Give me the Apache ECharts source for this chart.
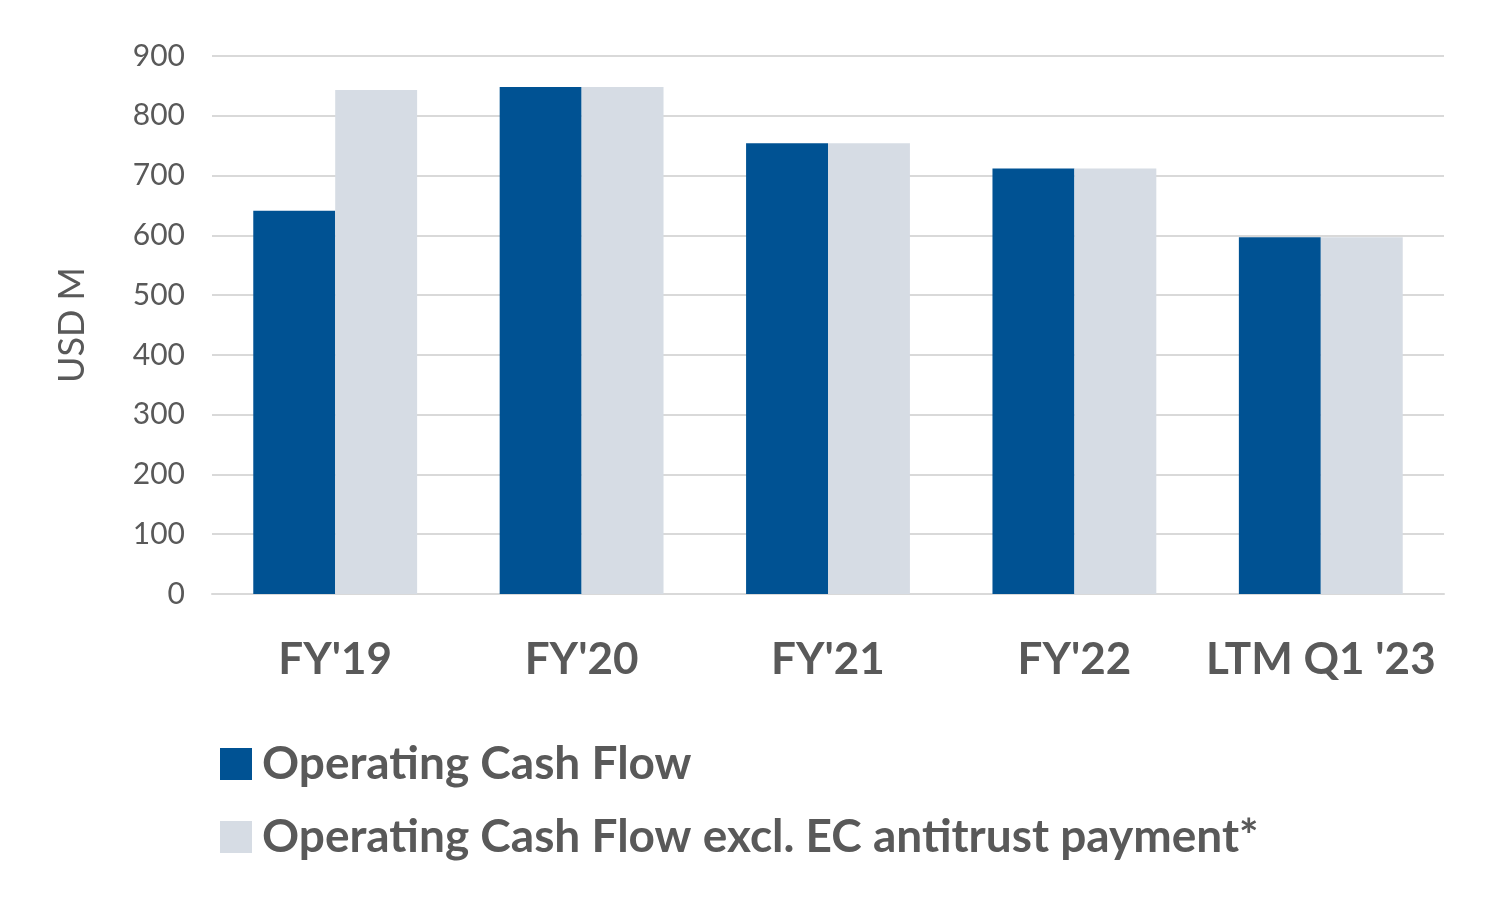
<!DOCTYPE html>
<html><head><meta charset="utf-8">
<script src="https://cdn.jsdelivr.net/npm/echarts@6/dist/echarts.min.js"></script>
<style>html,body{margin:0;padding:0;background:#fff}#c{width:1494px;height:900px}</style>
</head><body><div id="c"></div>
<script>
const categories = ["FY'19", "FY'20", "FY'21", "FY'22", "LTM Q1 '23"];
const ocf = [641, 848, 754, 712, 597];
const ocfExcl = [843, 848, 754, 712, 597];
const seriesNames = ["Operating Cash Flow", "Operating Cash Flow excl. EC antitrust payment*"];
const chart = echarts.init(document.getElementById('c'));
chart.setOption({
  backgroundColor: '#fff',
  animation: false,
  grid: {left: 212, right: 50, top: 56, bottom: 306},
  legend: {
    orient: 'vertical', left: 220, top: 741, padding: 0,
    itemWidth: 32, itemHeight: 32, itemGap: 27,
    icon: 'rect',
    textStyle: {fontFamily: 'Lato', fontWeight: 'bold', fontSize: 46, color: '#595959', padding: [0,0,0,5]},
    data: seriesNames
  },
  xAxis: {
    type: 'category', data: categories,
    axisLine: {lineStyle: {color: '#d9d9d9', width: 2}},
    axisTick: {show: false},
    axisLabel: {interval: 0, fontFamily: 'Lato', fontWeight: 'bold', fontSize: 44, color: '#595959', margin: 44}
  },
  yAxis: {
    type: 'value', min: 0, max: 900, interval: 100,
    name: 'USD M', nameLocation: 'middle', nameGap: 122, nameRotate: 90,
    nameTextStyle: {fontFamily: 'Lato', fontSize: 36, color: '#595959'},
    axisLine: {show: false}, axisTick: {show: false},
    axisLabel: {fontFamily: 'Lato', fontSize: 30, color: '#595959', margin: 27},
    splitLine: {lineStyle: {color: '#d9d9d9', width: 2}}
  },
  series: [
    {name: seriesNames[0], type: 'bar', data: ocf, itemStyle: {color: '#005293'}, barGap: '0%', barCategoryGap: '33.5%'},
    {name: seriesNames[1], type: 'bar', data: ocfExcl, itemStyle: {color: '#d6dce4'}, barGap: '0%', barCategoryGap: '33.5%'}
  ]
});
</script></body></html>
